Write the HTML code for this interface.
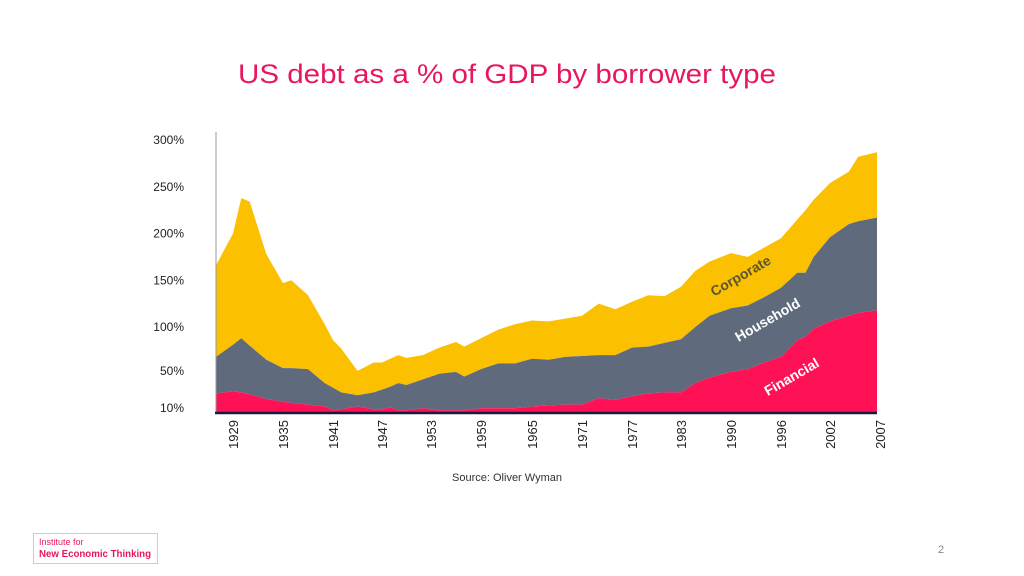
<!DOCTYPE html>
<html><head><meta charset="utf-8"><style>
html,body{margin:0;padding:0;background:#fff;width:1024px;height:576px;overflow:hidden}
svg{display:block;font-family:"Liberation Sans",sans-serif}
</style></head><body>
<svg id="chart" width="1024" height="576" viewBox="0 0 1024 576">
<text x="507" y="83" text-anchor="middle" font-size="27" fill="#e8175d" textLength="538" lengthAdjust="spacingAndGlyphs">US debt as a % of GDP by borrower type</text>
<g id="areas"></g>
<g id="yticks"></g>
<g id="xticks"></g>
<line x1="216" y1="132" x2="216" y2="413" stroke="#999" stroke-width="1"/>
<line x1="215" y1="413" x2="877" y2="413" stroke="#1a1a40" stroke-width="2.5"/>
<text transform="translate(743,280) rotate(-30)" text-anchor="middle" font-size="14" font-weight="bold" fill="#5b5538">Corporate</text>
<text transform="translate(770,324) rotate(-30)" text-anchor="middle" font-size="14" font-weight="bold" fill="#ffffff">Household</text>
<text transform="translate(794,381) rotate(-30)" text-anchor="middle" font-size="14" font-weight="bold" fill="#ffffff">Financial</text>
<text x="507" y="481" text-anchor="middle" font-size="11" fill="#333">Source: Oliver Wyman</text>
<text x="941" y="553" text-anchor="middle" font-size="11" fill="#888">2</text>
<g>
<rect x="33.5" y="533.5" width="124" height="30" fill="#fff" stroke="#ccc"/>
<text x="39" y="545" font-size="9" fill="#e8175d">Institute for</text>
<text x="39" y="557" font-size="10" font-weight="bold" fill="#e8175d" textLength="112" lengthAdjust="spacingAndGlyphs">New Economic Thinking</text>
</g>
</svg>
<script>
const years=[1927,1929,1930,1931,1933,1935,1936,1938,1940,1941,1942,1944,1946,1947,1948,1949,1950,1952,1954,1956,1957,1959,1961,1963,1965,1967,1969,1971,1973,1975,1977,1979,1981,1983,1985,1987,1990,1992,1994,1996,1998,1999,2000,2002,2004,2005,2007];
const financial=[29,31,30,28,23,20,19,17,15,11,12,15,12,12,14,11,11,13,11,11,11,13,13,13,15,16,17,17,24,22,26,29,30,30,40,46,52,55,62,68,86,90,98,106,112,115,118];
const household=[39,50,58,52,42,36,37,38,25,24,18,12,18,21,22,29,27,31,39,41,36,42,48,48,51,49,51,52,46,48,52,50,53,57,60,66,68,68,70,74,72,68,77,90,98,98,99];
const corporate=[98,119,150,154,113,91,94,79,63,51,47,26,32,29,30,30,29,26,28,32,32,33,36,42,41,41,41,43,55,49,49,55,50,56,60,58,59,52,53,53,57,67,61,58,56,69,70];
const tickYears=[1929,1935,1941,1947,1953,1959,1965,1971,1977,1983,1990,1996,2002,2007];
const yTickValues=[300,250,200,150,100,50,10];
const yTickLabels=["300%","250%","200%","150%","100%","50%","10%"];

const NS="http://www.w3.org/2000/svg";
const anchorYears=[1927,1929,1935,1941,1947,1953,1959,1965,1971,1977,1983,1990,1996,2002,2007];
const anchorX=[216,233,283,333,382,431,481,532,582,632,681,731,781,830,877];
function xScale(yr){
  for(let i=0;i<anchorYears.length-1;i++){
    if(yr<=anchorYears[i+1]){const t=(yr-anchorYears[i])/(anchorYears[i+1]-anchorYears[i]);return anchorX[i]+t*(anchorX[i+1]-anchorX[i]);}
  }
  return anchorX[anchorX.length-1];
}
function yScale(v){return Math.min(413,420.5-v*0.935);}
const areas=document.getElementById('areas');
const series=[[financial,'#ff1155','financial-area'],[household,'#5f6a7d','household-area'],[corporate,'#fbc000','corporate-area']];
let base=years.map(()=>0);
series.forEach(s=>{
  const top=base.map((b,i)=>b+s[0][i]);
  let d='';
  years.forEach((y,i)=>{d+=(i?'L':'M')+xScale(y).toFixed(1)+','+yScale(top[i]).toFixed(1);});
  for(let i=years.length-1;i>=0;i--){d+='L'+xScale(years[i]).toFixed(1)+','+yScale(base[i]).toFixed(1);}
  d+='Z';
  const p=document.createElementNS(NS,'path');
  p.setAttribute('d',d);p.setAttribute('fill',s[1]);
  
  
  areas.insertBefore(p,areas.firstChild);
  base=top;
});
const yt=document.getElementById('yticks');
yTickValues.forEach((v,i)=>{
  const t=document.createElementNS(NS,'text');
  t.setAttribute('x',184);t.setAttribute('y',yScale(v)+(v>=100?4:1));
  t.setAttribute('text-anchor','end');t.setAttribute('font-size','12');t.setAttribute('fill','#222');
  t.textContent=yTickLabels[i];
  
  
  yt.appendChild(t);
});
const xt=document.getElementById('xticks');
tickYears.forEach((y,i)=>{
  const x=i===tickYears.length-1?880:xScale(y);
  const t=document.createElementNS(NS,'text');
  t.setAttribute('transform','translate('+(x+5)+',420) rotate(-90)');
  t.setAttribute('text-anchor','end');t.setAttribute('font-size','13');t.setAttribute('fill','#222');
  t.textContent=String(y);
  
  
  xt.appendChild(t);
});
</script>
</body></html>
